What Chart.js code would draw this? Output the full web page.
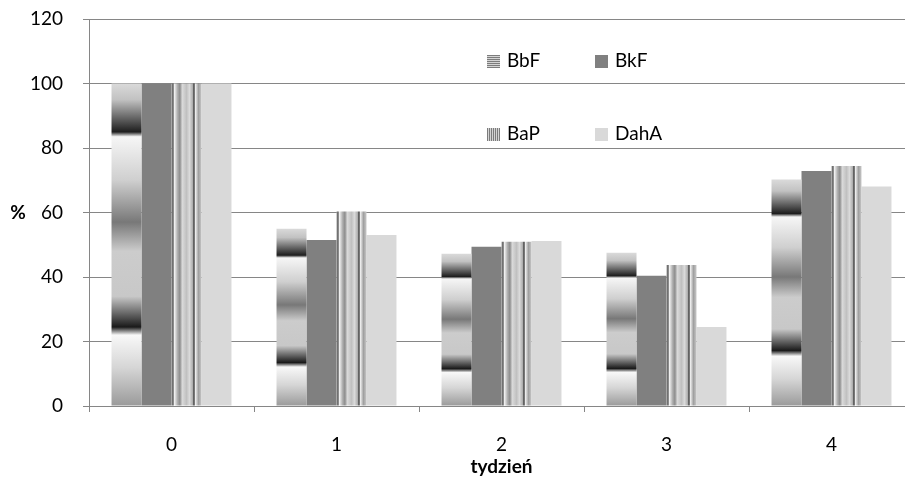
<!DOCTYPE html>
<html>
<head>
<meta charset="utf-8">
<script src="https://cdn.jsdelivr.net/npm/chart.js@4/dist/chart.umd.min.js"></script>
<style>
  html, body { margin: 0; padding: 0; background: #fff; overflow: hidden; width: 905px; height: 480px; }
  #wrap { width: 916px; height: 480px; }
</style>
</head>
<body>
<div id="wrap"><canvas id="chart" width="916" height="480"></canvas></div>
<script>
// weeks and remaining share (%) for each compound
const weeks = ["0", "1", "2", "3", "4"];
const seriesNames = ["BbF", "BkF", "BaP", "DahA"];
const bbf = [100, 55.0, 47.2, 47.5, 70.2];
const bkf = [100, 51.5, 49.4, 40.4, 72.9];
const bap = [100, 60.3, 50.9, 43.7, 74.4];
const dahA = [100, 53.0, 51.2, 24.5, 68.1];
const yTicks = [0, 20, 40, 60, 80, 100, 120];

const FONT = "Lato, 'Open Sans', sans-serif";
const AXIS = "#868686";
const CAT_PCT = 0.727;

// pixel box of one bar, worked out from the scales
function barBox(c) {
  const chart = c.chart;
  const xs = chart.scales.x, ys = chart.scales.y;
  if (!xs || !ys || !chart.chartArea) return null;
  const cat = (xs.right - xs.left) / weeks.length;
  const w = cat * CAT_PCT / chart.data.datasets.length;
  const left = xs.getPixelForValue(c.dataIndex) - cat * CAT_PCT / 2 + c.datasetIndex * w;
  return { left, right: left + w, top: ys.getPixelForValue(c.raw), bottom: ys.getPixelForValue(0) };
}

// banded fill running top to bottom of the bar
const bandStops = [
  [0.00, "#dadada"], [0.05, "#c2c2c2"], [0.15, "#1e1e1e"], [0.165, "#f6f6f6"],
  [0.30, "#cfcfcf"], [0.43, "#787878"], [0.52, "#cccccc"], [0.66, "#c8c8c8"],
  [0.755, "#1a1a1a"], [0.78, "#f8f8f8"], [0.88, "#d6d6d6"], [1.00, "#9a9a9a"]
];
// striped fill running left to right across the bar
const stripeStops = [
  [0.00, "#a0a0a0"], [0.05, "#5a5a5a"], [0.10, "#f0f0f0"], [0.20, "#b0b0b0"],
  [0.28, "#8c8c8c"], [0.36, "#dadada"], [0.50, "#c0c0c0"], [0.60, "#dadada"],
  [0.70, "#b0b0b0"], [0.75, "#3c3c3c"], [0.80, "#ececec"], [0.90, "#a0a0a0"], [1.00, "#c8c8c8"]
];

function bandFill(c) {
  const b = barBox(c);
  if (!b) return "#b0b0b0";
  const g = c.chart.ctx.createLinearGradient(0, b.top, 0, b.bottom);
  bandStops.forEach(([t, col]) => g.addColorStop(t, col));
  return g;
}

function stripeFill(c) {
  const b = barBox(c);
  if (!b) return "#b0b0b0";
  const g = c.chart.ctx.createLinearGradient(b.left, 0, b.right, 0);
  stripeStops.forEach(([t, col]) => g.addColorStop(t, col));
  return g;
}

// legend swatches
function swatch(ctx, kind, x, y, s) {
  if (kind === 0) {
    for (let i = 0; i < s; i++) {
      ctx.fillStyle = i % 2 ? "#d4d4d4" : "#7c7c7c";
      ctx.fillRect(x, y + i, s, 1);
    }
  } else if (kind === 2) {
    for (let i = 0; i < s; i++) {
      ctx.fillStyle = i % 2 ? "#d4d4d4" : "#7c7c7c";
      ctx.fillRect(x + i, y, 1, s);
    }
  } else {
    ctx.fillStyle = kind === 1 ? "#808080" : "#d9d9d9";
    ctx.fillRect(x, y, s, s);
  }
}

const insideLegend = {
  id: "insideLegend",
  afterDraw(chart) {
    const ctx = chart.ctx;
    const cols = [487, 595];
    const rows = [61, 134];
    ctx.save();
    ctx.font = "19px " + FONT;
    ctx.textBaseline = "middle";
    seriesNames.forEach((name, i) => {
      const x = cols[i % 2], y = rows[Math.floor(i / 2)];
      swatch(ctx, i, x, y - 6, 13);
      ctx.fillStyle = "#000";
      ctx.fillText(name, x + 20, y);
    });
    ctx.restore();
  }
};

const percentLabel = {
  id: "percentLabel",
  afterDraw(chart) {
    const ctx = chart.ctx, a = chart.chartArea;
    ctx.save();
    ctx.font = "bold 19px " + FONT;
    ctx.fillStyle = "#000";
    ctx.textAlign = "center";
    ctx.textBaseline = "middle";
    ctx.fillText("%", 18, (a.top + a.bottom) / 2);
    ctx.restore();
  }
};

new Chart(document.getElementById("chart"), {
  type: "bar",
  data: {
    labels: weeks,
    datasets: [
      { label: seriesNames[0], data: bbf, backgroundColor: bandFill },
      { label: seriesNames[1], data: bkf, backgroundColor: "#808080" },
      { label: seriesNames[2], data: bap, backgroundColor: stripeFill },
      { label: seriesNames[3], data: dahA, backgroundColor: "#d9d9d9" }
    ]
  },
  options: {
    responsive: false,
    animation: false,
    datasets: { bar: { categoryPercentage: CAT_PCT, barPercentage: 1, borderWidth: 0 } },
    layout: { padding: { top: 19, right: 2, left: 0, bottom: 0 } },
    plugins: { legend: { display: false }, tooltip: { enabled: false } },
    scales: {
      x: {
        grid: { display: true, drawOnChartArea: false, drawTicks: true, tickLength: 6, color: AXIS, offset: true },
        border: { color: AXIS, width: 1 },
        ticks: { color: "#000", font: { family: FONT, size: 19 }, padding: 21 },
        title: { display: true, text: "tydzień", color: "#000", font: { family: FONT, size: 19, weight: "bold" }, padding: { top: 0, bottom: 2 } },
        afterFit: (s) => { s.height = 74; }
      },
      y: {
        min: yTicks[0],
        max: yTicks[yTicks.length - 1],
        afterBuildTicks: (s) => { s.ticks = yTicks.map((v) => ({ value: v })); },
        ticks: { color: "#000", font: { family: FONT, size: 19 }, padding: 20 },
        grid: { color: AXIS, tickLength: 6, drawTicks: true },
        border: { color: AXIS, width: 1 },
        afterFit: (s) => { s.width = 89; s.paddingTop = 0; s.paddingBottom = 0; }
      }
    }
  },
  plugins: [insideLegend, percentLabel]
});
</script>
</body>
</html>
